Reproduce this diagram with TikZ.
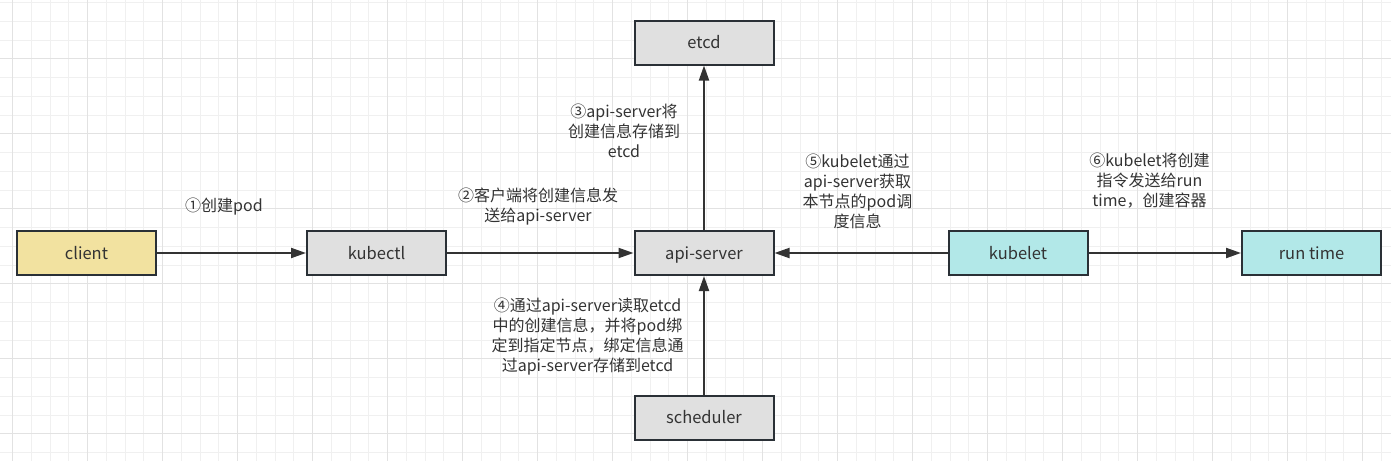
\documentclass[tikz,border=0pt]{standalone}
\usepackage{fontspec}
\setmainfont{Noto Sans CJK SC}
\usetikzlibrary{arrows.meta}
\definecolor{gridminor}{HTML}{F0F0F0}
\definecolor{gridmajor}{HTML}{E2E2E2}
\definecolor{boxborder}{HTML}{2A3036}
\definecolor{greyfill}{HTML}{E0E0E0}
\definecolor{yellowfill}{HTML}{F2E2A0}
\definecolor{cyanfill}{HTML}{B2E8E8}
\definecolor{txt}{HTML}{333333}
\definecolor{arrowcol}{HTML}{333333}
\tikzset{
  stepbox/.style={draw=boxborder, line width=2pt, minimum width=139pt, minimum height=44pt, inner sep=0pt, text=txt, text height=13pt, text depth=0.5pt, font=\fontsize{16.5}{18}\selectfont},
  greybox/.style={stepbox, fill=greyfill},
  yellowbox/.style={stepbox, fill=yellowfill},
  cyanbox/.style={stepbox, fill=cyanfill},
  note/.style={align=center, text=txt, inner sep=0pt, font=\fontsize{16}{20}\selectfont},
  arr/.style={draw=arrowcol, line width=2pt, -{Triangle[length=15pt,width=10pt]}},
  minorline/.style={draw=gridminor, line width=1pt},
  majorline/.style={draw=gridmajor, line width=1pt}
}
\begin{document}
\begin{tikzpicture}[x=1pt,y=-1pt]
\useasboundingbox (0,0) rectangle (1391,461);
\fill[white] (0,0) rectangle (1391,461);
% grid
\foreach \i in {0,...,73} { \draw[minorline] ({12.7+18.75*\i},0) -- ({12.7+18.75*\i},461); }
\foreach \j in {0,...,24} { \draw[minorline] (0,{2.7+18.75*\j}) -- (1391,{2.7+18.75*\j}); }
\foreach \i in {0,...,18} { \draw[majorline] ({12.7+75*\i},0) -- ({12.7+75*\i},461); }
\foreach \j in {0,...,5} { \draw[majorline] (0,{58.95+75*\j}) -- (1391,{58.95+75*\j}); }
% boxes
\node[yellowbox] (client) at (86.5,253) {client};
\node[greybox] (kubectl) at (376.5,253) {kubectl};
\node[greybox] (api) at (704,253) {api-server};
\node[greybox] (etcd) at (704,42.5) {etcd};
\node[greybox] (sched) at (704,417.5) {scheduler};
\node[cyanbox] (kubelet) at (1018,253) {kubelet};
\node[cyanbox] (runtime) at (1311.5,253) {run time};
% arrows
\draw[arr] (client) -- (kubectl);
\draw[arr] (kubectl) -- (api);
\draw[arr] (api) -- (etcd);
\draw[arr] (sched) -- (api);
\draw[arr] (kubelet) -- (api);
\draw[arr] (kubelet) -- (runtime);
% notes
\node[note] (n1) at (224,207) {①创建pod};
\node[note] (n2) at (538,207) {②客户端将创建信息发\\送给api-server};
\node[note] (n3) at (624,131) {③api-server将\\创建信息存储到\\etcd};
\node[note] (n4) at (587.5,337) {④通过api-server读取etcd\\中的创建信息，并将pod绑\\定到指定节点，绑定信息通\\过api-server存储到etcd};
\node[note] (n5) at (857.5,191.7) {⑤kubelet通过\\api-server获取\\本节点的pod调\\度信息};
\node[note] (n6) at (1149.5,180.3) {⑥kubelet将创建\\指令发送给run\\time，创建容器};
\end{tikzpicture}
\end{document}
